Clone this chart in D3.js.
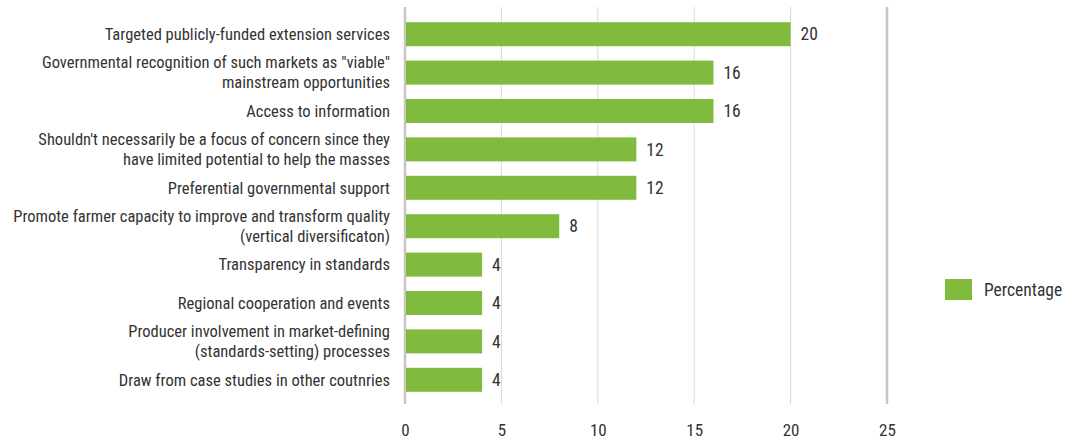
<!DOCTYPE html>
<html>
<head>
<meta charset="utf-8">
<script src="https://cdn.jsdelivr.net/npm/d3@7"></script>
<style>
    body { margin: 0; background: #fff; }
    text { font-family: "Liberation Sans Narrow", "Arial Narrow", "Roboto Condensed", sans-serif; fill: #333; }
    .grid line { stroke: #d9d9d9; stroke-width: 1; }
</style>
</head>
<body>
<div id="chart"></div>
<script>
const categories = [
    ["Targeted publicly-funded extension services"],
    ["Governmental recognition of such markets as \"viable\"", "mainstream opportunities"],
    ["Access to information"],
    ["Shouldn't necessarily be a focus of concern since they", "have limited potential to help the masses"],
    ["Preferential governmental support"],
    ["Promote farmer capacity to improve and transform quality", "(vertical diversificaton)"],
    ["Transparency in standards"],
    ["Regional cooperation and events"],
    ["Producer involvement in market-defining", "(standards-setting) processes"],
    ["Draw from case studies in other coutnries"]
];
const percentage = [20, 16, 16, 12, 12, 8, 4, 4, 4, 4];
const xTicks = [0, 5, 10, 15, 20, 25];
const seriesName = "Percentage";

function draw_bars() {
    const width = 1065, height = 442;
    const color = "#80bb3d";

    let svg = d3.select("#chart")
        .append("svg")
        .attr("width", width)
        .attr("height", height);

    let x = d3.scaleLinear()
        .domain([0, 25])
        .range([405, 887]);

    let y = d3.scaleBand()
        .domain(d3.range(categories.length))
        .range([15, 399])
        .paddingInner(0.375)
        .paddingOuter(0.1875);

    // vertical grid
    svg.append("g")
        .attr("class", "grid")
        .selectAll("line")
        .data(xTicks)
        .join("line")
        .attr("x1", d => x(d))
        .attr("x2", d => x(d))
        .attr("y1", 7)
        .attr("y2", 404)
        .style("stroke", d => (d === 0 || d === 25) ? "#c6c6c6" : "#d9d9d9")
        .style("stroke-width", d => (d === 0 || d === 25) ? 2.5 : 1);

    // x tick labels
    svg.append("g")
        .attr("transform", "translate(0, 404)")
        .call(d3.axisBottom(x)
            .tickValues(xTicks)
            .tickSize(0)
            .tickPadding(20)
        )
        .call(g => g.select(".domain").remove())
        .selectAll("text")
        .style("font-size", "17px")
        .style("fill", "#333");

    svg.selectAll(".bar")
        .data(percentage)
        .join("rect")
        .attr("class", "bar")
        .attr("x", x(0) + 1)
        .attr("y", (d, i) => y(i))
        .attr("width", d => x(d) - x(0) - 1)
        .attr("height", y.bandwidth())
        .attr("fill", color);

    svg.selectAll(".value")
        .data(percentage)
        .join("text")
        .attr("class", "value")
        .attr("x", d => x(d) + 10)
        .attr("y", (d, i) => y(i) + y.bandwidth() / 2)
        .attr("dy", "0.35em")
        .style("font-size", "17.5px")
        .text(d => d);

    // category labels
    let labels = svg.selectAll(".cat")
        .data(categories)
        .join("text")
        .attr("class", "cat")
        .attr("text-anchor", "end")
        .style("font-size", "16.5px")
        .attr("y", (d, i) => y(i) + y.bandwidth() / 2);

    labels.selectAll("tspan")
        .data(d => d.map((t, k) => ({t: t, k: k, n: d.length})))
        .join("tspan")
        .attr("x", 390)
        .attr("dy", d => d.k === 0 ? (0.35 - (d.n - 1) * 0.6) + "em" : "1.2em")
        .text(d => d.t);

    // legend
    svg.append("rect")
        .attr("x", 945)
        .attr("y", 279)
        .attr("width", 27)
        .attr("height", 21)
        .attr("fill", color);

    svg.append("text")
        .attr("x", 984)
        .attr("y", 290)
        .attr("dy", "0.35em")
        .style("font-size", "17.5px")
        .text(seriesName);
}

draw_bars();
</script>
</body>
</html>
